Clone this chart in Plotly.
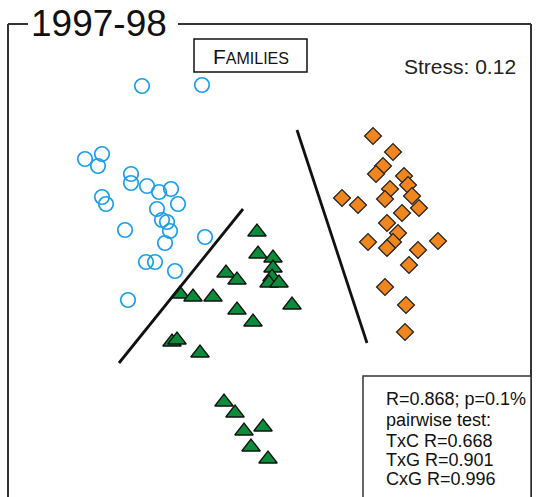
import plotly.graph_objects as go

# nMDS ordination scores (plot units), one list per family group
circle_x = [142, 202, 85, 102, 98, 102, 106, 131, 131, 147, 159, 171,
            157, 178, 162, 167, 170, 165, 125, 205, 146, 155, 175, 128]
circle_y = [86, 85, 159, 154, 166, 197, 204, 174, 183, 186, 192, 189,
            209, 204, 220, 222, 231, 243, 230, 237, 262, 262, 271, 300]

triangle_x = [257, 258, 273, 273, 272, 269, 279, 226, 237, 180, 193, 213,
              237, 292, 253, 172, 177, 200, 224, 235, 244, 263, 251, 268]
triangle_y = [232, 254, 258, 268, 277, 283, 283, 273, 280, 294, 297, 297,
              310, 305, 322, 342, 340, 353, 402, 413, 431, 427, 447, 459]

diamond_x = [373, 393, 383, 376, 404, 408, 390, 385, 412, 358, 419, 402,
             387, 398, 393, 368, 387, 438, 418, 342, 409, 385, 406, 405]
diamond_y = [136, 152, 166, 174, 176, 185, 189, 199, 196, 205, 208, 213,
             223, 233, 242, 242, 248, 241, 250, 198, 265, 287, 305, 332]

# group separators drawn by hand on the ordination
sep_lines = [((119, 363), (243, 209)), ((297, 130), (367, 343))]

title_text = "1997-98"
stress_text = "Stress: 0.12"
stats_lines = ["R=0.868; p=0.1%", "pairwise test:", "TxC R=0.668",
               "TxG R=0.901", "CxG R=0.996"]

FONT = "Liberation Sans, Arial, sans-serif"

fig = go.Figure()
fig.add_trace(go.Scatter(
    x=circle_x, y=circle_y, mode="markers",
    marker=dict(symbol="circle-open", size=14.5, color="#1c9ee8",
                line=dict(width=1.7, color="#1c9ee8")),
    showlegend=False, hoverinfo="skip"))
fig.add_trace(go.Scatter(
    x=triangle_x, y=triangle_y, mode="markers",
    marker=dict(symbol="triangle-up", size=16, color="#0a8c3a",
                line=dict(width=1.3, color="#111111")),
    showlegend=False, hoverinfo="skip"))
fig.add_trace(go.Scatter(
    x=diamond_x, y=diamond_y, mode="markers",
    marker=dict(symbol="diamond", size=13, color="#f0861e",
                line=dict(width=1.3, color="#222222")),
    showlegend=False, hoverinfo="skip"))

shapes = []
for (x0, y0), (x1, y1) in sep_lines:
    shapes.append(dict(type="line", x0=x0, y0=y0, x1=x1, y1=y1,
                       line=dict(color="#111111", width=2.8)))

# panel frame, broken at the top for the year label
frame = dict(color="#333333", width=2)
shapes += [
    dict(type="line", x0=8, y0=24, x1=28, y1=24, line=frame),
    dict(type="line", x0=178, y0=24, x1=531, y1=24, line=frame),
    dict(type="line", x0=8, y0=24, x1=8, y1=500, line=frame),
    dict(type="line", x0=531, y0=24, x1=531, y1=500, line=frame),
    # family label box
    dict(type="rect", x0=194, y0=39, x1=307, y1=72,
         line=dict(color="#111111", width=1.5), fillcolor="white"),
    # ANOSIM results box
    dict(type="rect", x0=363, y0=376, x1=531, y1=505,
         line=dict(color="#333333", width=1.5), fillcolor="white"),
]

annotations = [
    dict(x=29, y=23, text=title_text, showarrow=False, xanchor="left",
         yanchor="middle", font=dict(family=FONT, size=37, color="#111111")),
    dict(x=251, y=56, showarrow=False, xanchor="center", yanchor="middle",
         text='F<span style="font-size:16px">AMILIES</span>',
         font=dict(family=FONT, size=21, color="#111111")),
    dict(x=518, y=66, text=stress_text, showarrow=False, xanchor="right",
         yanchor="middle", font=dict(family=FONT, size=21, color="#222222")),
]
stats_y = [399, 420, 441, 460, 479]
for line_text, yy in zip(stats_lines, stats_y):
    annotations.append(dict(x=384, y=yy, text=line_text, showarrow=False,
                            xanchor="left", yanchor="middle",
                            font=dict(family=FONT, size=18, color="#111111")))

fig.update_layout(
    width=538, height=497,
    margin=dict(l=0, r=0, t=0, b=0),
    paper_bgcolor="white", plot_bgcolor="white",
    xaxis=dict(range=[0, 538], visible=False, fixedrange=True),
    yaxis=dict(range=[497, 0], visible=False, fixedrange=True),
    shapes=shapes, annotations=annotations,
)

fig.write_html("out.html")
